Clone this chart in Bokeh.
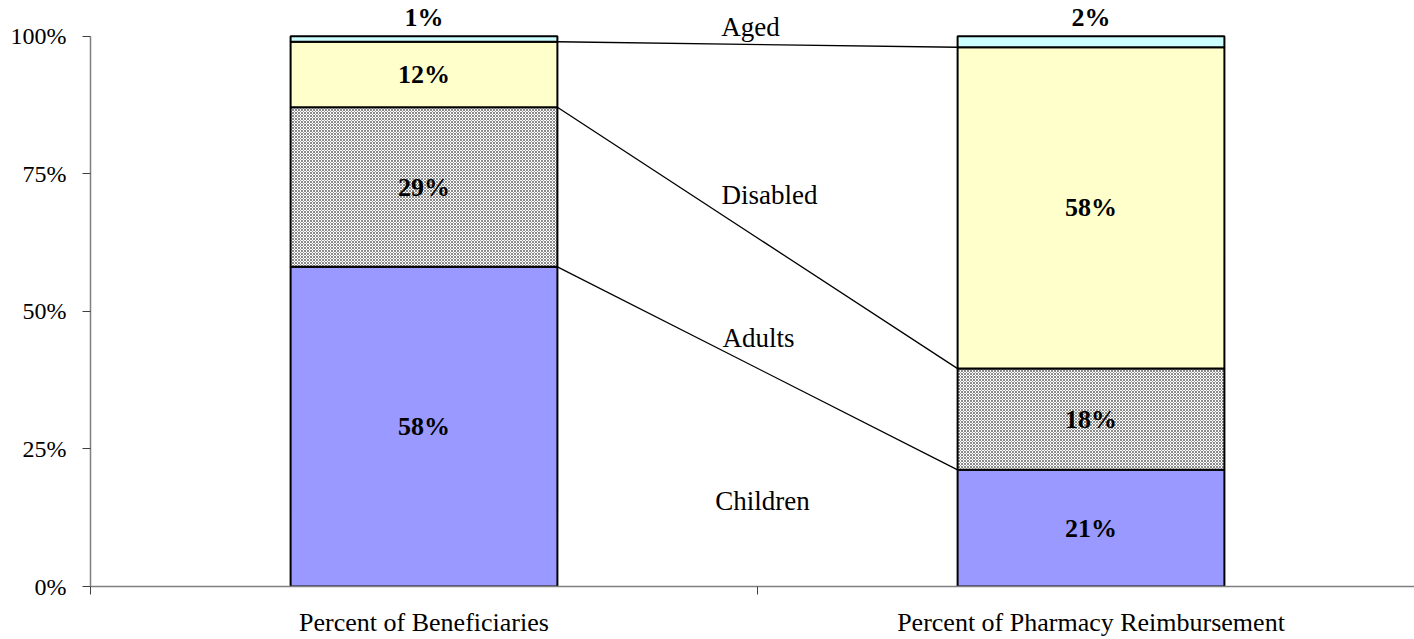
from bokeh.plotting import figure
from bokeh.models import Range1d, FixedTicker, ColumnDataSource
from bokeh.core.properties import value
from bokeh.embed import file_html
from bokeh.resources import INLINE

# ---- data ----
categories = ["Percent of Beneficiaries", "Percent of Pharmacy Reimbursement"]
groups = ["Children", "Adults", "Disabled", "Aged"]
beneficiaries = [58.1, 29.0, 11.9, 1.0]
pharmacy = [21.2, 18.4, 58.4, 2.0]
group_label_y = [15.6, 45.2, 71.1, 101.6]
y_ticks = [0, 25, 50, 75, 100]
y_tick_labels = ["0%", "25%", "50%", "75%", "100%"]

colors = ["#9999FF", "#FFFFFF", "#FFFFCC", "#CCFFFF"]
FONT = value("Liberation Serif")

W, H = 1414, 639
p = figure(width=W, height=H, output_backend="svg", toolbar_location=None,
           x_range=Range1d(0, 1.985), y_range=Range1d(0, 106.5),
           min_border_left=90, min_border_right=0, min_border_top=0,
           min_border_bottom=52)
p.outline_line_color = None
p.grid.grid_line_color = None
p.background_fill_color = "white"

centers = [0.5, 1.5]
bar_w = 0.4
series = [beneficiaries, pharmacy]

lab_x, lab_y, lab_t = [], [], []
tops = []
for ci, vals in enumerate(series):
    bottom = 0.0
    cum = []
    for gi, v in enumerate(vals):
        top = bottom + v
        if groups[gi] == "Adults":
            kw = dict(fill_color="#FFFFFF", hatch_pattern="diagonal_cross",
                      hatch_color="#8a8a8a", hatch_scale=3, hatch_weight=1)
        else:
            kw = dict(fill_color=colors[gi])
        p.quad(left=[centers[ci] - bar_w / 2], right=[centers[ci] + bar_w / 2],
               bottom=[bottom], top=[top], line_color="black", line_width=2, **kw)
        lab_x.append(centers[ci])
        lab_y.append((bottom + top) / 2 if v > 5 else 103.4)
        lab_t.append(f"{round(v)}%")
        cum.append(top)
        bottom = top
    tops.append(cum)

# connector lines between cumulative boundaries
x0 = [centers[0] + bar_w / 2] * 3
x1 = [centers[1] - bar_w / 2] * 3
p.segment(x0=x0, y0=tops[0][:3], x1=x1, y1=tops[1][:3], line_color="black", line_width=1.3)

p.text(x=lab_x, y=lab_y, text=lab_t, text_align="center", text_baseline="middle",
       text_font=FONT, text_font_style="bold", text_font_size="26px", text_color="black")

src = ColumnDataSource(dict(x=[1.0] * 4, y=group_label_y, t=groups, dx=[5, 1, 12, -7]))
p.text(x="x", y="y", text="t", x_offset="dx", source=src, text_align="center",
       text_baseline="middle", text_font=FONT, text_font_size="27px", text_color="black")

# y axis
ya = p.yaxis[0]
ya.ticker = FixedTicker(ticks=y_ticks)
ya.major_label_overrides = {t: l for t, l in zip(y_ticks, y_tick_labels)}
ya.bounds = (0, 100)
ya.axis_line_color = "#7f7f7f"
ya.axis_line_width = 1.5
ya.major_tick_line_color = "#404040"
ya.major_tick_in = 0
ya.major_tick_out = 8
ya.minor_tick_line_color = None
ya.major_label_text_font = "Liberation Serif"
ya.major_label_text_font_size = "24px"
ya.major_label_text_color = "black"
ya.major_label_standoff = 16

# x axis
xa = p.xaxis[0]
xa.ticker = FixedTicker(ticks=centers, minor_ticks=[0, 1, 2])
xa.major_label_overrides = {0.5: categories[0], 1.5: categories[1]}
xa.axis_line_color = "#7f7f7f"
xa.axis_line_width = 1.5
xa.major_tick_line_color = None
xa.major_tick_in = 0
xa.major_tick_out = 0
xa.minor_tick_line_color = "#404040"
xa.minor_tick_in = 0
xa.minor_tick_out = 8
xa.major_label_text_font = "Liberation Serif"
xa.major_label_text_font_size = "26px"
xa.major_label_text_color = "black"
xa.major_label_standoff = 13

open("out.html", "w").write(file_html(p, INLINE))
